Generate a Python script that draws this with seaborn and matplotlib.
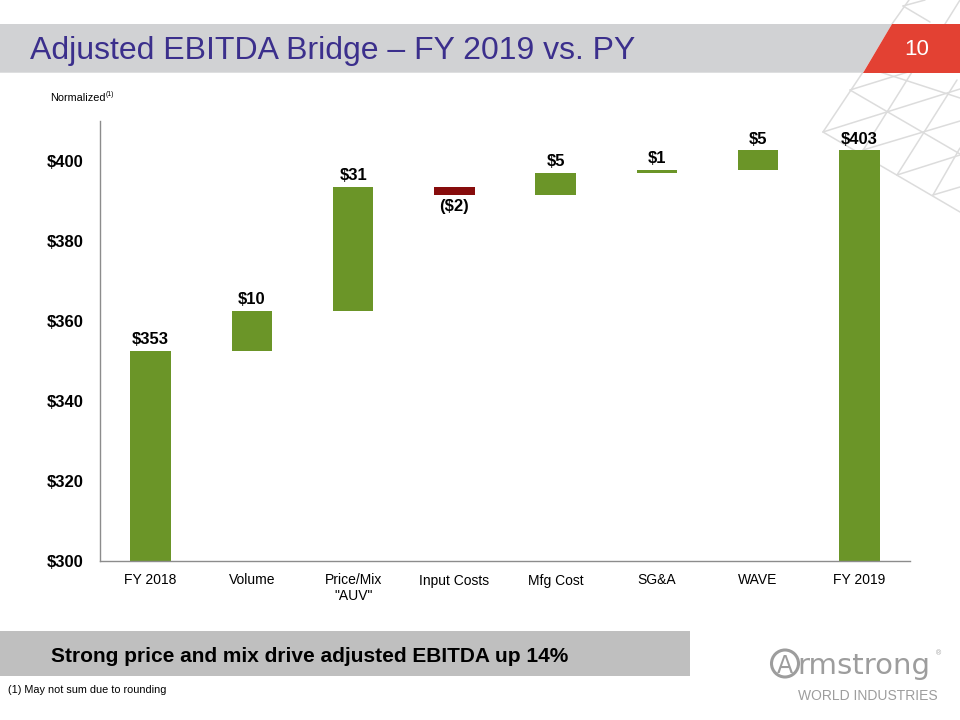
import numpy as np
import pandas as pd
import matplotlib
matplotlib.use("Agg")
import matplotlib.pyplot as plt
from matplotlib.patches import Polygon, Rectangle, Ellipse
from matplotlib.lines import Line2D
import seaborn as sns

# ---------------- data ----------------
categories = ["FY 2018", "Volume", "Price/Mix\n\"AUV\"", "Input Costs",
              "Mfg Cost", "SG&A", "WAVE", "FY 2019"]
start_value = 352.6
changes = [10.0, 31.0, -2.0, 5.5, 0.7, 4.9]
value_labels = ["$353", "$10", "$31", "($2)", "$5", "$1", "$5", "$403"]
y_ticks = [300, 320, 340, 360, 380, 400]
y_tick_labels = ["$300", "$320", "$340", "$360", "$380", "$400"]

title = "Adjusted EBITDA Bridge \u2013 FY 2019 vs. PY"
page_number = "10"
banner_text = "Strong price and mix drive adjusted EBITDA up 14%"
footnote = "(1) May not sum due to rounding"

GREEN = "#6b9528"
RED = "#870c0c"

# waterfall geometry (derived from the data)
levels = np.concatenate([[start_value], start_value + np.cumsum(changes)])
end_value = levels[-1]
bottoms = [0.0] + list(levels[:-1]) + [0.0]
heights = [start_value] + list(changes) + [end_value]
bar_colors = [GREEN if h >= 0 else RED for h in heights]
df = pd.DataFrame({"category": categories, "height": heights, "bottom": bottoms})

# ---------------- figure ----------------
sns.set_style("white")
plt.rcParams["font.family"] = ["Liberation Sans", "DejaVu Sans"]
plt.rcParams["text.color"] = "black"
plt.rcParams["xtick.color"] = "black"
plt.rcParams["ytick.color"] = "black"

W, H = 960, 720
fig = plt.figure(figsize=(9.6, 7.2), dpi=100)
fig.patch.set_facecolor("white")


def P(x, y):
    return (x / W, 1 - y / H)


# decorative lattice (behind everything)
lattice = [
    ((863, 72), (823, 132)), ((912, 72), (862, 152)), ((957, 80), (897, 175)),
    ((960, 148), (933, 195)),
    ((850, 90), (908, 72)), ((823, 132), (960, 89)), ((863, 150), (960, 121)),
    ((897, 175), (960, 155)), ((933, 195), (960, 187)),
    ((850, 90), (960, 154)), ((823, 132), (960, 212)), ((880, 72), (960, 98)),
    ((909, 0), (892, 24)), ((903, 6), (925, 0)), ((903, 6), (930, 22)),
    ((960, 0), (945, 24)),
]
for (x0, y0), (x1, y1) in lattice:
    fig.add_artist(Line2D([x0 / W, x1 / W], [1 - y0 / H, 1 - y1 / H],
                          transform=fig.transFigure, color="#dcdcdc", lw=1.1, zorder=1))

# title bar
fig.add_artist(Polygon([P(0, 24), P(892, 24), P(863, 72.7), P(0, 72.7)],
                       closed=True, transform=fig.transFigure,
                       facecolor="#d1d2d4", edgecolor="none", zorder=2))
fig.add_artist(Polygon([P(892, 24), P(960, 24), P(960, 72.7), P(863, 72.7)],
                       closed=True, transform=fig.transFigure,
                       facecolor="#e34133", edgecolor="none", zorder=2))
fig.text(*P(30, 59), title, fontsize=23, color="#3b2f8c", ha="left", va="baseline", zorder=3)
fig.text(*P(917, 55), page_number, fontsize=16, color="white", ha="center", va="baseline", zorder=3)
fig.text(*P(50, 101), "Normalized", fontsize=7.8, color="black", ha="left", va="baseline", zorder=3)
fig.text(*P(105.5, 96), "(1)", fontsize=5, color="black", ha="left", va="baseline", zorder=3)

# bottom banner
fig.add_artist(Rectangle(P(0, 676), 690 / W, 45 / H, transform=fig.transFigure,
                         facecolor="#bfbfbf", edgecolor="none", zorder=2))
fig.text(*P(310, 662), banner_text, fontsize=15, fontweight="bold", color="black",
         ha="center", va="baseline", zorder=3)
fig.text(*P(8, 693), footnote, fontsize=7.8, color="black", ha="left", va="baseline", zorder=3)

# logo
LOGO = "#9d9d9d"
fig.add_artist(Ellipse(P(785, 663.5), 27 / W, 27 / H, transform=fig.transFigure,
                       facecolor="none", edgecolor=LOGO, lw=2.2, zorder=3))
fig.text(*P(785, 673), "A", fontsize=17, color=LOGO, ha="center", va="baseline",
         family=["DejaVu Sans"], zorder=3)
fig.text(*P(797, 674), "rmstrong", fontsize=21, color=LOGO, ha="left", va="baseline",
         family=["DejaVu Sans"], zorder=3)
fig.text(*P(936, 655), "\u00ae", fontsize=5, color=LOGO, ha="left", va="baseline", zorder=3)
fig.text(*P(868, 700), "WORLD INDUSTRIES", fontsize=10, color=LOGO, ha="center",
         va="baseline", zorder=3)

# ---------------- chart ----------------
ax = fig.add_axes([100 / W, 1 - 561 / H, 810 / W, 440 / H])
ax.set_zorder(5)
ax.set_facecolor("none")

sns.barplot(data=df, x="category", y="height", bottom=df["bottom"].values,
            color=GREEN, saturation=1, width=0.4, errorbar=None, linewidth=0, ax=ax)
for patch, c in zip(ax.patches, bar_colors):
    patch.set_facecolor(c)
    patch.set_edgecolor("none")

for i, (b, h, lab) in enumerate(zip(bottoms, heights, value_labels)):
    if h >= 0:
        ax.annotate(lab, (i, b + h), xytext=(0, 2.5), textcoords="offset points",
                    ha="center", va="bottom", fontsize=12, fontweight="bold", color="black")
    else:
        ax.annotate(lab, (i, b + h), xytext=(0, -3), textcoords="offset points",
                    ha="center", va="top", fontsize=12, fontweight="bold", color="black")

ax.set_ylim(300, 410)
ax.set_xlim(-0.5, len(categories) - 0.5)
ax.set_yticks(y_ticks)
ax.set_yticklabels(y_tick_labels, fontsize=12, fontweight="bold")
ax.set_xticks(range(len(categories)))
ax.set_xticklabels(categories, fontsize=10, linespacing=1.15)
ax.set_xticks(np.arange(-0.5, len(categories), 1.0), minor=True)
ax.tick_params(axis="x", which="major", length=0, pad=9, labelcolor="black")
ax.tick_params(axis="x", which="minor", length=5.5, width=1, color="#8c8c8c", direction="out")
ax.tick_params(axis="y", which="major", length=4, width=1, color="#8c8c8c", direction="out",
               pad=8, labelcolor="black")
ax.set_xlabel("")
ax.set_ylabel("")
for side in ["top", "right"]:
    ax.spines[side].set_visible(False)
for side in ["left", "bottom"]:
    ax.spines[side].set_color("#8c8c8c")
    ax.spines[side].set_linewidth(1)

fig.savefig("out.png", dpi=100)
